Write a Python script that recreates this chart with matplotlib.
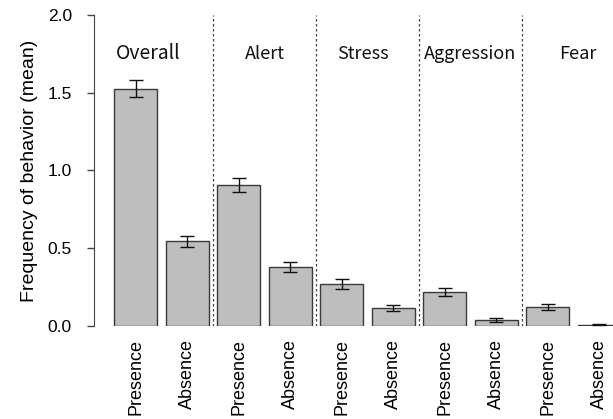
import numpy as np
import matplotlib.pyplot as plt

# mean frequency per behaviour category, presence vs absence
groups = ['Overall', 'Alert', 'Stress', 'Aggression', 'Fear']
conditions = ['Presence', 'Absence']
presence_mean = [1.525, 0.909, 0.272, 0.219, 0.122]
presence_se = [0.054, 0.045, 0.032, 0.027, 0.020]
absence_mean = [0.544, 0.382, 0.114, 0.039, 0.008]
absence_se = [0.037, 0.032, 0.018, 0.013, 0.004]
yticks = [0.0, 0.5, 1.0, 1.5, 2.0]

plt.rcParams['font.family'] = ['Liberation Sans', 'DejaVu Sans']

# interleave presence/absence like barplot(space=0.2)
means = np.ravel(np.column_stack([presence_mean, absence_mean]))
errs = np.ravel(np.column_stack([presence_se, absence_se]))
labels = conditions * len(groups)
x = 0.7 + 1.2 * np.arange(len(means))

fig = plt.figure(figsize=(6.13, 4.19), dpi=100)
ax = fig.add_axes([94 / 613, 93 / 419, 1 - 94 / 613, 311 / 419])

ax.bar(x, means, width=1.0, color='#bebebe', edgecolor='#3a3a3a', linewidth=1.0, zorder=2)
ax.errorbar(x, means, yerr=errs, fmt='none', ecolor='#111111', elinewidth=1.0,
            capsize=4.7, capthick=1.0, zorder=3)

# dashed separators between behaviour groups
for k in range(1, len(groups)):
    ax.axvline(x[2 * k] - 0.6, ymin=0, ymax=1, color='#444444', linestyle=(0, (2, 2)),
               linewidth=0.9, zorder=1)

label_x = [1.0, 3.7, 6.0, 8.5, 11.0]
for gx, g in zip(label_x, groups):
    ax.text(gx, 1.75, g, ha='center', va='center', fontsize=14 if g == 'Overall' else 13,
            family=['Noto Sans CJK JP', 'DejaVu Sans'], color='#111111')

ax.set_xlim(-0.272, 0.7 + (613 - 136) / 42.9)
ax.set_ylim(0, 2.0)
ax.set_yticks(yticks)
ax.set_yticklabels(['%.1f' % v for v in yticks])
ax.set_xticks(x)
ax.set_xticklabels(labels, rotation=90, va='top', ha='center')
ax.tick_params(axis='x', length=0, pad=9, labelsize=13)
ax.tick_params(axis='y', length=5, width=1, color='#444444', pad=11, labelsize=12.5)
ax.set_ylabel('Frequency of behavior (mean)', fontsize=14, labelpad=7)

for s in ['top', 'right', 'bottom']:
    ax.spines[s].set_visible(False)
ax.spines['left'].set_color('#444444')

fig.savefig('out.png', dpi=100)
